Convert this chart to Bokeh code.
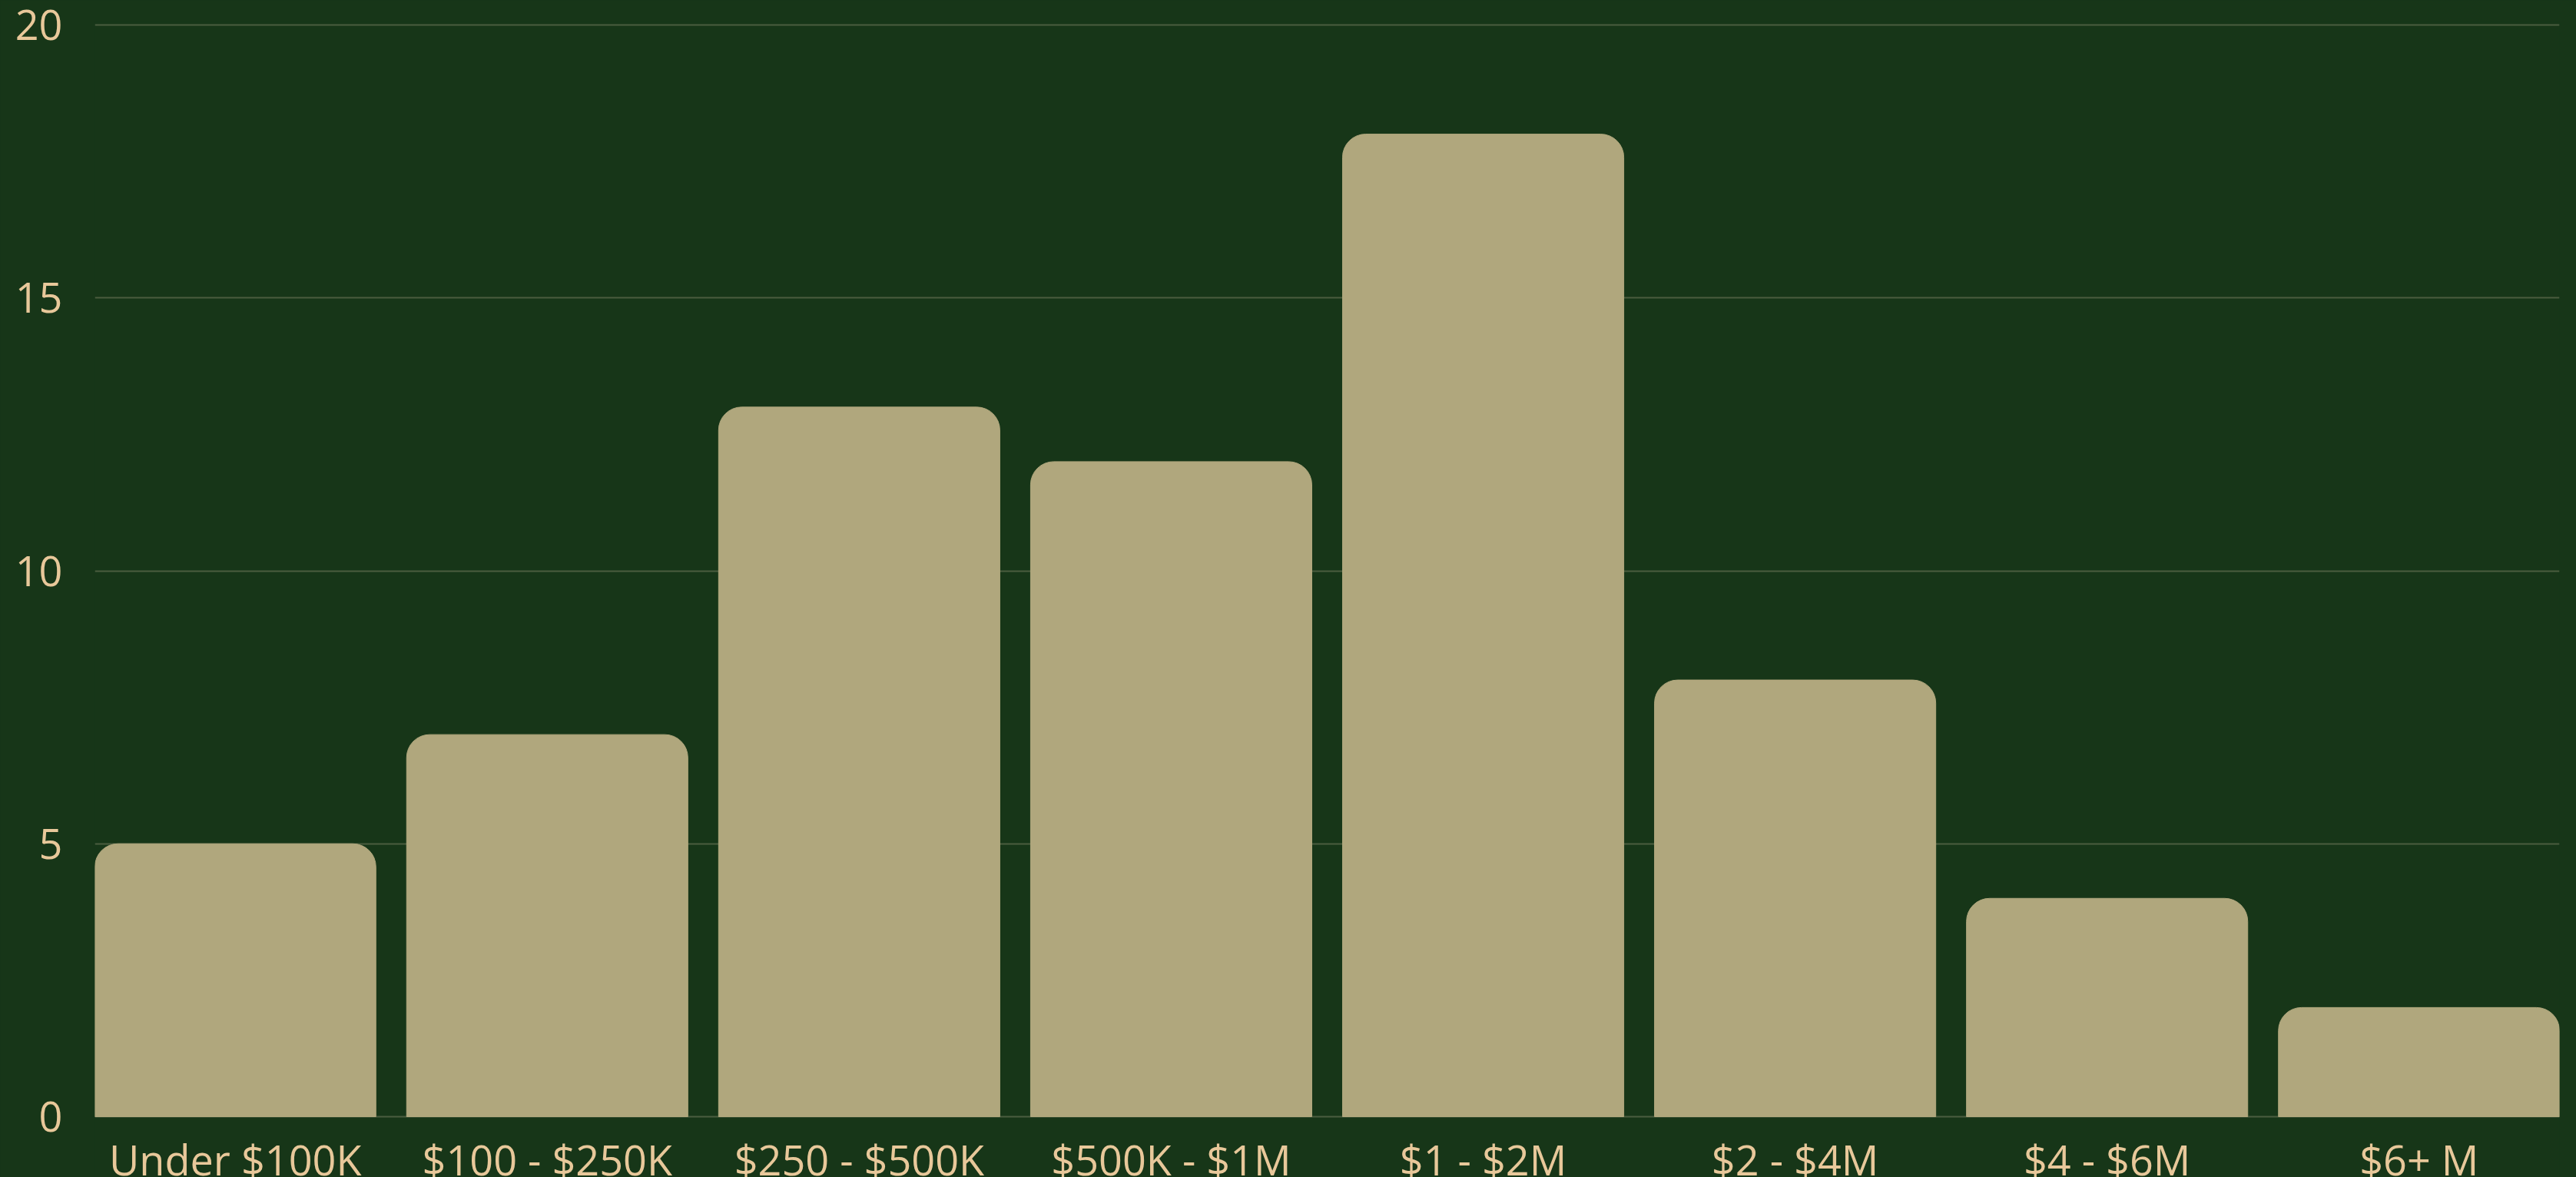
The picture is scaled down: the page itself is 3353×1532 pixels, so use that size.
from bokeh.plotting import figure
from bokeh.models import Range1d, FixedTicker, ColumnDataSource, Label
from bokeh.embed import file_html
from bokeh.resources import INLINE

categories = ["Under $100K", "$100 - $250K", "$250 - $500K", "$500K - $1M",
              "$1 - $2M", "$2 - $4M", "$4 - $6M", "$6+ M"]
counts = [5, 7, 13, 12, 18, 8, 4, 2]
y_ticks = [0, 5, 10, 15, 20]

BG = "#173618"
BAR = "#b0a77d"
TXT = "#e8c89a"
GRID = "#4b5d3f"

xs = list(range(len(categories)))
src = ColumnDataSource(dict(x=xs, top=counts, cat=categories))

# layout: y=20 at 32px, y=0 at 1453px; frame extended a little above 20 (so the top
# gridline is not clipped) and down to the canvas bottom (so category labels sit inside)
px_per_unit = (1453 - 32) / 20.0
y_start = -(1532 - 1453) / px_per_unit
y_end = 20 + 4 / px_per_unit

p = figure(width=3353, height=1532, output_backend="svg", toolbar_location=None,
           x_range=Range1d(-0.45, len(categories) - 0.55), y_range=Range1d(y_start, y_end),
           min_border_left=123, min_border_right=22, min_border_top=28, min_border_bottom=0,
           background_fill_color=BG, border_fill_color=BG, outline_line_color=None)
p.styles = {"background-color": BG}

p.vbar(x="x", top="top", bottom=0, width=0.9015, source=src,
       fill_color=BAR, line_color=BAR, line_width=1, border_radius=(30, 30, 0, 0))

p.xgrid.grid_line_color = None
p.ygrid.ticker = FixedTicker(ticks=y_ticks)
p.ygrid.grid_line_color = GRID
p.ygrid.grid_line_width = 2
p.ygrid.level = "underlay"

p.xaxis.visible = False
p.yaxis.ticker = FixedTicker(ticks=y_ticks)
ax = p.yaxis[0]
ax.axis_line_color = None
ax.major_tick_line_color = None
ax.minor_tick_line_color = None
ax.major_tick_out = 0
ax.major_tick_in = 0
ax.major_label_text_color = TXT
ax.major_label_text_font = "Open Sans"
ax.major_label_text_font_size = "54px"
ax.major_label_standoff = 42

for xi, cat in zip(xs, categories):
    p.add_layout(Label(x=xi, y=0, x_units="data", y_units="data", y_offset=-55,
                       text=cat, text_align="center", text_baseline="alphabetic",
                       text_color=TXT, text_font="Open Sans", text_font_size="54px"))

open("out.html", "w").write(file_html(p, INLINE))
